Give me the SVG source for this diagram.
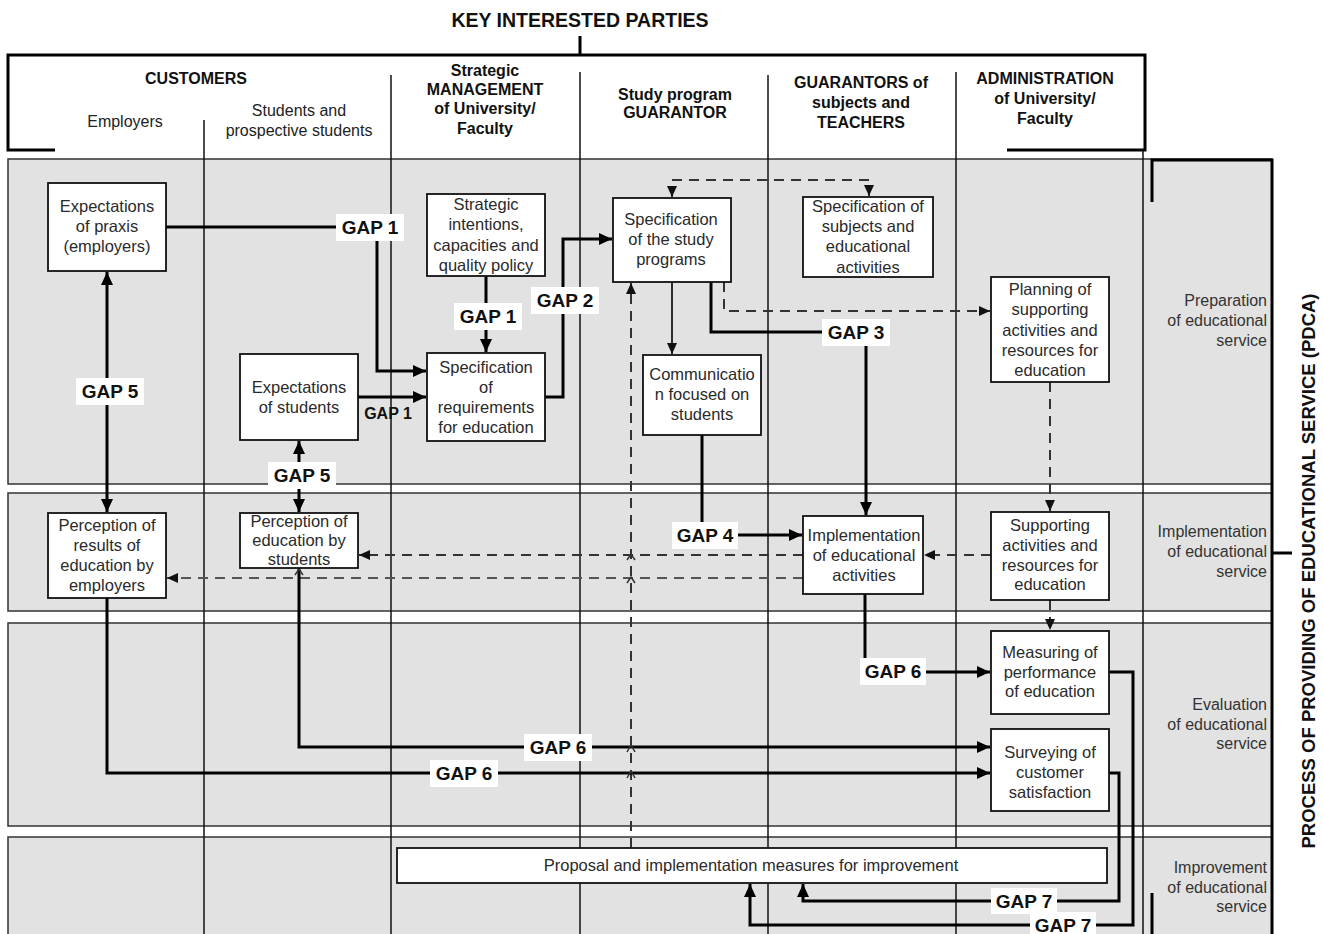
<svg xmlns="http://www.w3.org/2000/svg" width="1323" height="934" viewBox="0 0 1323 934">
<style>
.band{fill:#e2e2e2;stroke:#333;stroke-width:1.5}
.lane{stroke:#111;stroke-width:1.5;fill:none}
.box{fill:#fff;stroke:#111;stroke-width:1.8}
.t{font-family:"Liberation Sans",Arial,sans-serif;font-size:16.5px;fill:#2a2a2a;text-anchor:middle}
.h{font-family:"Liberation Sans",Arial,sans-serif;font-size:16px;font-weight:bold;fill:#111;text-anchor:middle}
.hr{font-family:"Liberation Sans",Arial,sans-serif;font-size:16px;fill:#222;text-anchor:middle}
.side{font-family:"Liberation Sans",Arial,sans-serif;font-size:16px;fill:#333;text-anchor:end}
.gap{font-family:"Liberation Sans",Arial,sans-serif;font-size:19px;font-weight:bold;fill:#111;text-anchor:middle}
.gbg{fill:#fff}
.thick{stroke:#000;stroke-width:3;fill:none}
.thin{stroke:#000;stroke-width:1.6;fill:none}
.dash{stroke:#333;stroke-width:2;stroke-dasharray:10 7;fill:none}
.brk{stroke:#000;stroke-width:3;fill:none}
.caret{stroke:#333;stroke-width:1.5;fill:none}
</style>
<defs>
<marker id="ah" markerUnits="userSpaceOnUse" markerWidth="14" markerHeight="14" refX="13" refY="7" orient="auto-start-reverse"><path d="M0,1 L13,7 L0,13 z" fill="#000"/></marker>
<marker id="as" markerUnits="userSpaceOnUse" markerWidth="12" markerHeight="12" refX="11" refY="6" orient="auto-start-reverse"><path d="M0,1 L11,6 L0,11 z" fill="#111"/></marker>
</defs>

<!-- header -->
<g id="header">
<text x="580" y="27" class="h" style="font-size:19.5px">KEY INTERESTED PARTIES</text>
<path class="brk" d="M580,36 V55"/>
<path class="brk" d="M55,150 H8 V55 H1145 V150 H1007"/>
<text x="196" y="84" class="h">CUSTOMERS</text>
<text x="125" y="127" class="hr">Employers</text>
<text x="299" y="116" class="hr">Students and</text>
<text x="299" y="136" class="hr">prospective students</text>
<text x="485" y="76" class="h">Strategic</text>
<text x="485" y="95" class="h">MANAGEMENT</text>
<text x="485" y="114" class="h">of University/</text>
<text x="485" y="134" class="h">Faculty</text>
<text x="675" y="100" class="h">Study program</text>
<text x="675" y="118" class="h">GUARANTOR</text>
<text x="861" y="88" class="h">GUARANTORS of</text>
<text x="861" y="108" class="h">subjects and</text>
<text x="861" y="128" class="h">TEACHERS</text>
<text x="1045" y="84" class="h">ADMINISTRATION</text>
<text x="1045" y="104" class="h">of University/</text>
<text x="1045" y="124" class="h">Faculty</text>
</g>

<!-- bands -->
<g id="bands">
<rect class="band" x="8" y="159" width="1264" height="325"/>
<rect class="band" x="8" y="493" width="1264" height="118"/>
<rect class="band" x="8" y="623" width="1264" height="203"/>
<rect class="band" x="8" y="837" width="1264" height="110"/>
</g>

<!-- lanes -->
<g id="lanes">
<path class="lane" d="M204,120 V934"/>
<path class="lane" d="M391,75 V934"/>
<path class="lane" d="M580,72 V934"/>
<path class="lane" d="M768,75 V934"/>
<path class="lane" d="M956,72 V934"/>
<path class="lane" d="M1143,150 V934"/>
</g>

<!-- right bracket + side labels -->
<g id="pdca">
<path class="brk" d="M1152,202 V160 H1272 V934"/>
<path class="brk" d="M1152,893 V934"/>
<path class="brk" d="M1272,553 H1292"/>
<text x="1315" y="571" class="h" style="font-size:18.5px" transform="rotate(-90 1315 571)">PROCESS OF PROVIDING OF EDUCATIONAL SERVICE (PDCA)</text>
<text x="1267" y="306" class="side">Preparation</text>
<text x="1267" y="326" class="side">of educational</text>
<text x="1267" y="346" class="side">service</text>
<text x="1267" y="537" class="side">Implementation</text>
<text x="1267" y="557" class="side">of educational</text>
<text x="1267" y="577" class="side">service</text>
<text x="1267" y="710" class="side">Evaluation</text>
<text x="1267" y="730" class="side">of educational</text>
<text x="1267" y="749" class="side">service</text>
<text x="1267" y="873" class="side">Improvement</text>
<text x="1267" y="893" class="side">of educational</text>
<text x="1267" y="912" class="side">service</text>
</g>

<!-- connectors -->
<g id="connectors">
<path class="thick" d="M166,227 H377 V371 H426" marker-end="url(#ah)"/>
<path class="thick" d="M358,397 H426" marker-end="url(#ah)"/>
<path class="thick" d="M486,276 V352" marker-end="url(#ah)"/>
<path class="thick" d="M545,397 H563 V239 H612" marker-end="url(#ah)"/>
<path class="dash" d="M672,197 V180 H869 V196" marker-start="url(#as)" marker-end="url(#as)"/>
<path class="dash" d="M724,282 V311 H990" marker-end="url(#as)"/>
<path class="thin" d="M672,282 V354" marker-end="url(#as)"/>
<path class="thick" d="M711,282 V332 H866 V515" marker-end="url(#ah)"/>
<path class="dash" d="M1050,382 V511" marker-end="url(#as)"/>
<path class="thick" d="M702,435 V535 H802" marker-end="url(#ah)"/>
<path class="dash" d="M991,555 H924" marker-end="url(#as)"/>
<path class="dash" d="M803,555 H359" marker-end="url(#as)"/>
<path class="dash" d="M803,578 H167" marker-end="url(#as)" style="stroke:#555"/>
<path class="dash" d="M631,848 V283" marker-end="url(#as)"/>
<path class="dash" d="M1050,600 V630" marker-end="url(#as)"/>
<path class="thick" d="M865,594 V672 H990" marker-end="url(#ah)"/>
<path class="thick" d="M107,272 V512" marker-start="url(#ah)" marker-end="url(#ah)"/>
<path class="thick" d="M299,441 V512" marker-start="url(#ah)" marker-end="url(#ah)"/>
<path class="thick" d="M299,568 V747 H990" marker-end="url(#ah)"/>
<path class="thick" d="M107,598 V773 H990" marker-end="url(#ah)"/>
<path class="thick" d="M1109,672 H1133 V925 H750 V884" marker-end="url(#ah)"/>
<path class="thick" d="M1109,773 H1119 V901 H803 V884" marker-end="url(#ah)"/>
<path class="caret" d="M627,560 L631,554 L635,560 M627,583 L631,577 L635,583 M627,752 L631,745 L635,752 M627,778 L631,771 L635,778 M295,575 L299,569 L303,575"/>
<!-- gap labels -->
<rect class="gbg" x="336" y="214" width="68" height="27"/><text x="370" y="234" class="gap">GAP 1</text>
<rect class="gbg" x="454" y="303" width="68" height="27"/><text x="488" y="323" class="gap">GAP 1</text>
<text x="388" y="419" class="gap" style="font-size:16px">GAP 1</text>
<rect class="gbg" x="531" y="287" width="68" height="27"/><text x="565" y="307" class="gap">GAP 2</text>
<rect class="gbg" x="822" y="319" width="68" height="27"/><text x="856" y="339" class="gap">GAP 3</text>
<rect class="gbg" x="672" y="522" width="66" height="27"/><text x="705" y="542" class="gap">GAP 4</text>
<rect class="gbg" x="76" y="378" width="68" height="27"/><text x="110" y="398" class="gap">GAP 5</text>
<rect class="gbg" x="268" y="462" width="68" height="27"/><text x="302" y="482" class="gap">GAP 5</text>
<rect class="gbg" x="860" y="658" width="66" height="27"/><text x="893" y="678" class="gap">GAP 6</text>
<rect class="gbg" x="524" y="734" width="68" height="27"/><text x="558" y="754" class="gap">GAP 6</text>
<rect class="gbg" x="430" y="760" width="68" height="27"/><text x="464" y="780" class="gap">GAP 6</text>
<rect class="gbg" x="991" y="888" width="66" height="26"/><text x="1024" y="908" class="gap">GAP 7</text>
<rect class="gbg" x="1030" y="912" width="66" height="24"/><text x="1063" y="932" class="gap">GAP 7</text>
</g>

<!-- nodes -->
<g id="n-expect-praxis"><rect class="box" x="48" y="183" width="118" height="88"/>
<text class="t" x="107" y="212">Expectations</text><text class="t" x="107" y="232">of praxis</text><text class="t" x="107" y="252">(employers)</text></g>
<g id="n-strategic"><rect class="box" x="427" y="194" width="118" height="82"/>
<text class="t" x="486" y="210">Strategic</text><text class="t" x="486" y="230">intentions,</text><text class="t" x="486" y="251">capacities and</text><text class="t" x="486" y="271">quality policy</text></g>
<g id="n-spec-programs"><rect class="box" x="613" y="198" width="118" height="84"/>
<text class="t" x="671" y="225">Specification</text><text class="t" x="671" y="245">of the study</text><text class="t" x="671" y="265">programs</text></g>
<g id="n-spec-subjects"><rect class="box" x="803" y="197" width="130" height="80"/>
<text class="t" x="868" y="212">Specification of</text><text class="t" x="868" y="232">subjects and</text><text class="t" x="868" y="252">educational</text><text class="t" x="868" y="273">activities</text></g>
<g id="n-planning"><rect class="box" x="991" y="277" width="118" height="105"/>
<text class="t" x="1050" y="295">Planning of</text><text class="t" x="1050" y="315">supporting</text><text class="t" x="1050" y="336">activities and</text><text class="t" x="1050" y="356">resources for</text><text class="t" x="1050" y="376">education</text></g>
<g id="n-expect-students"><rect class="box" x="240" y="354" width="118" height="86"/>
<text class="t" x="299" y="393">Expectations</text><text class="t" x="299" y="413">of students</text></g>
<g id="n-spec-req"><rect class="box" x="427" y="353" width="118" height="88"/>
<text class="t" x="486" y="373">Specification</text><text class="t" x="486" y="393">of</text><text class="t" x="486" y="413">requirements</text><text class="t" x="486" y="433">for education</text></g>
<g id="n-communication"><rect class="box" x="643" y="355" width="118" height="80"/>
<text class="t" x="702" y="380">Communicatio</text><text class="t" x="702" y="400">n focused on</text><text class="t" x="702" y="420">students</text></g>
<g id="n-percep-employers"><rect class="box" x="48" y="513" width="118" height="85"/>
<text class="t" x="107" y="531">Perception of</text><text class="t" x="107" y="551">results of</text><text class="t" x="107" y="571">education by</text><text class="t" x="107" y="591">employers</text></g>
<g id="n-percep-students"><rect class="box" x="240" y="513" width="118" height="55"/>
<text class="t" x="299" y="527">Perception of</text><text class="t" x="299" y="546">education by</text><text class="t" x="299" y="565">students</text></g>
<g id="n-implementation"><rect class="box" x="803" y="516" width="120" height="78"/>
<text class="t" x="864" y="541">Implementation</text><text class="t" x="864" y="561">of educational</text><text class="t" x="864" y="581">activities</text></g>
<g id="n-supporting"><rect class="box" x="991" y="512" width="118" height="88"/>
<text class="t" x="1050" y="531">Supporting</text><text class="t" x="1050" y="551">activities and</text><text class="t" x="1050" y="571">resources for</text><text class="t" x="1050" y="590">education</text></g>
<g id="n-measuring"><rect class="box" x="991" y="631" width="118" height="83"/>
<text class="t" x="1050" y="658">Measuring of</text><text class="t" x="1050" y="678">performance</text><text class="t" x="1050" y="697">of education</text></g>
<g id="n-surveying"><rect class="box" x="991" y="729" width="118" height="82"/>
<text class="t" x="1050" y="758">Surveying of</text><text class="t" x="1050" y="778">customer</text><text class="t" x="1050" y="798">satisfaction</text></g>
<g id="n-proposal"><rect class="box" x="397" y="848" width="710" height="35"/>
<text class="t" x="751" y="871">Proposal and implementation measures for improvement</text></g>
</svg>
